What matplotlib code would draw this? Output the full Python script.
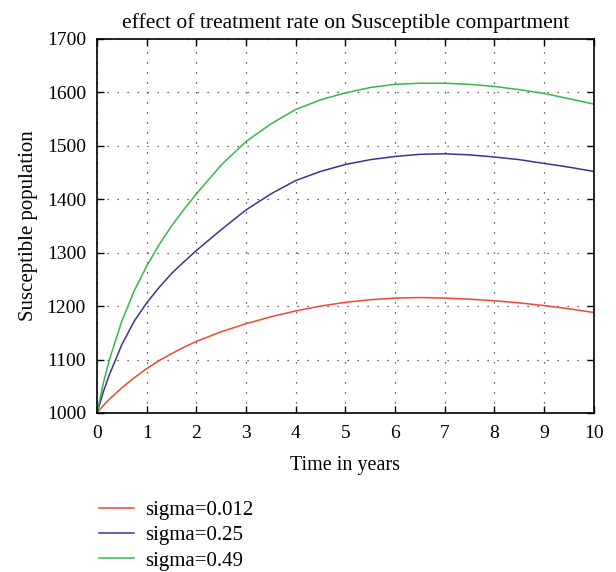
import matplotlib.pyplot as plt

# time grid (years) and the susceptible population for each treatment rate
t = [0, 0.125, 0.25, 0.5, 0.75, 1, 1.25, 1.5, 1.75, 2, 2.5, 3, 3.5, 4, 4.5, 5,
     5.5, 6, 6.5, 7, 7.5, 8, 8.5, 9, 9.5, 10]

s_low = [1000, 1014, 1026, 1047, 1066, 1083, 1098, 1111, 1123, 1134, 1152, 1167,
         1180, 1191, 1200, 1207, 1212, 1215, 1216, 1215, 1213, 1210, 1206, 1201,
         1195, 1188]
s_mid = [1000, 1039, 1072, 1128, 1172, 1206, 1235, 1261, 1283, 1304, 1343, 1380,
         1410, 1435, 1452, 1465, 1474, 1480, 1484, 1485, 1483, 1479, 1474, 1467,
         1460, 1452]
s_high = [1000, 1055, 1100, 1172, 1229, 1275, 1315, 1350, 1381, 1410, 1464, 1508,
          1541, 1568, 1586, 1599, 1609, 1615, 1617, 1617, 1615, 1611, 1605, 1598,
          1588, 1578]

labels = ["sigma=0.012", "sigma=0.25", "sigma=0.49"]
colors = ["#ee4a30", "#3d3397", "#33b94c"]

plt.rcParams["font.family"] = ["Liberation Serif", "DejaVu Serif"]

fig = plt.figure(figsize=(6.16, 5.72), dpi=100)
ax = fig.add_axes([0.1575, 0.278, 0.8065, 0.654])

for y, lab, c in zip([s_low, s_mid, s_high], labels, colors):
    ax.plot(t, y, color=c, linewidth=1.1, label=lab)

ax.set_xlim(0, 10)
ax.set_ylim(1000, 1700)
ax.set_xticks(range(0, 11))
ax.set_yticks(range(1000, 1701, 100))
ax.tick_params(direction="in", top=True, right=True, length=5, width=1,
               labelsize=14)
ax.tick_params(axis="x", pad=9)
ax.tick_params(axis="y", pad=8)
ax.grid(True, color="#333333", linestyle=(0, (1, 7)), linewidth=0.9)
for sp in ax.spines.values():
    sp.set_linewidth(1.2)

ax.set_title("effect of treatment rate on Susceptible compartment", fontsize=15.5, pad=8)
ax.set_xlabel("Time in years", fontsize=14.5, labelpad=10)
ax.set_ylabel("Susceptible population", fontsize=15, labelpad=6)

ax.legend(loc="upper left", bbox_to_anchor=(-0.013, -0.211), frameon=False,
          fontsize=15, handlelength=1.7, handletextpad=0.5, labelspacing=0.28,
          borderaxespad=0)

fig.savefig("out.png", dpi=100)
